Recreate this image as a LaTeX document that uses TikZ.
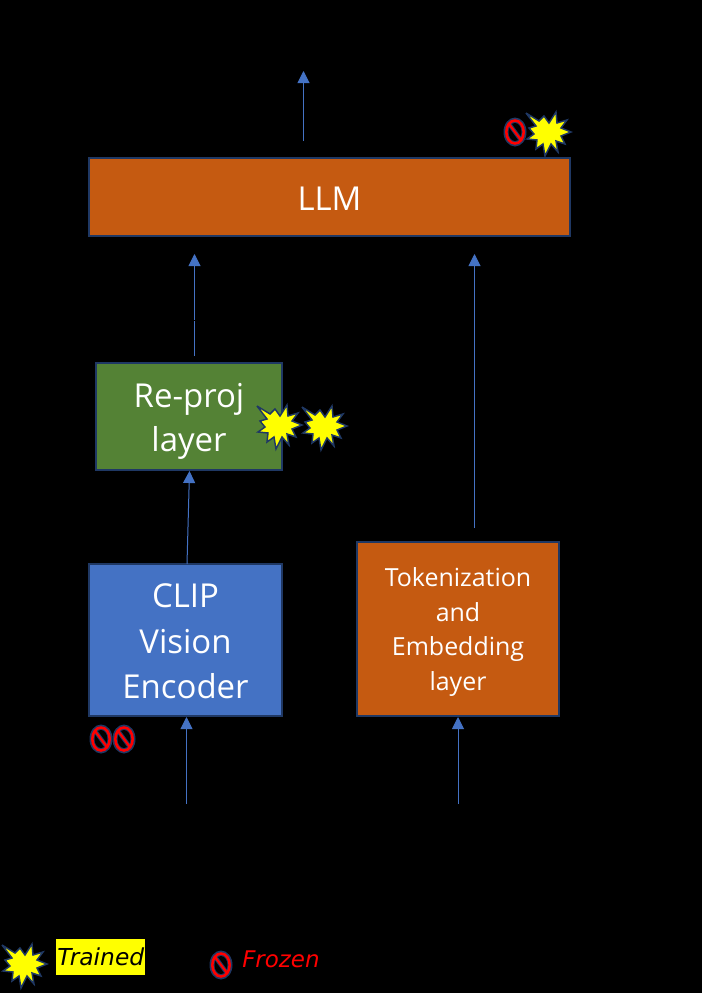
\documentclass[tikz,border=0pt]{standalone}
\usepackage{fontspec}
\setmainfont{Open Sans}
\newfontfamily\legendfont{DejaVu Sans}
\usetikzlibrary{arrows.meta}
\definecolor{navyline}{HTML}{1F3864}
\definecolor{orangebox}{HTML}{C55A11}
\definecolor{greenbox}{HTML}{548235}
\definecolor{bluebox}{HTML}{4472C4}
\definecolor{pureyellow}{HTML}{FFFF00}
\definecolor{purered}{HTML}{FF0000}
\tikzset{
  x=0.75pt,y=-0.75pt,
  blockbox/.style={draw=navyline,line width=1.5pt,text=white,align=center,inner sep=0pt,anchor=north west},
  flow/.style={draw=bluebox,line width=0.75pt,-{Triangle[length=9pt,width=9pt,fill=bluebox]}},
  flowplain/.style={draw=bluebox,line width=0.75pt},
  burst/.pic={
    \draw[fill=pureyellow,draw=navyline,line width=1.1pt,line join=miter,miter limit=5]
      (-22,-20) -- (-9,-12) -- (-4,-17) -- (1,-10) -- (8,-21) -- (9,-10) -- (19,-13) -- (13,-5)
      -- (23,-1) -- (13,3) -- (17,11) -- (8,8) -- (10,19) -- (3,11) -- (-3,23) -- (-5,11)
      -- (-12,16) -- (-11,7) -- (-21,6) -- (-14,1) -- (-19,-5) -- (-12,-7) -- cycle;
  },
  banpic/.pic={
    \fill[navyline] (0,0) ellipse [x radius=11.5,y radius=14.5];
    \fill[black] (0,0) ellipse [x radius=6.5,y radius=9];
    \draw[navyline,line width=3.2pt] (-5.5,-7.5) -- (5.5,7.5);
    \draw[purered,line width=1.9pt] (0,0) ellipse [x radius=8.7,y radius=11.5];
    \draw[purered,line width=1.7pt] (-6,-8) -- (6,8);
  }
}
\begin{document}
\begin{tikzpicture}
\useasboundingbox (0,0) rectangle (702,993);
\fill[black] (0,0) rectangle (702,993);

\node[blockbox,fill=orangebox,minimum width=360.75pt,minimum height=58.5pt,
  label={[text=white,align=center,yshift=-1.5pt,font=\fontsize{24.7}{29}\selectfont]center:{LLM}}] (llm) at (88,157) {};
\node[blockbox,fill=greenbox,minimum width=139.5pt,minimum height=80.25pt,
  label={[text=white,align=center,yshift=-3.4pt,font=\fontsize{24.7}{33}\selectfont]center:{Re-proj\\layer}}] (reproj) at (95,362) {};
\node[blockbox,fill=bluebox,minimum width=144.75pt,minimum height=114pt,
  label={[text=white,align=center,yshift=-1.1pt,font=\fontsize{24.7}{34}\selectfont]center:{CLIP\\Vision\\Encoder}}] (clip) at (88,563) {};
\node[blockbox,fill=orangebox,minimum width=151.5pt,minimum height=130.5pt,
  label={[text=white,align=center,yshift=-2.25pt,font=\fontsize{18.7}{26.2}\selectfont]center:{Tokenization\\and\\Embedding\\layer}}] (token) at (356,541) {};

\coordinate (outstart) at (303.5,141);
\coordinate (outend) at (303.5,71);
\draw[flow] (outstart) -- (outend);

\coordinate (rpstart) at (194.5,356);
\coordinate (rpmid) at (194.5,321);
\coordinate (rpmidb) at (194.5,320);
\coordinate (rpend) at (194.5,254);
\draw[flowplain] (rpstart) -- (rpmid);
\draw[flow] (rpmidb) -- (rpend);

\coordinate (tkstart) at (474.5,528);
\coordinate (tkend) at (474.5,254);
\draw[flow] (tkstart) -- (tkend);

\coordinate (clipstart) at (187,564);
\coordinate (clipend) at (189.5,471);
\draw[flow] (clipstart) -- (clipend);

\coordinate (imgstart) at (186.5,804);
\coordinate (imgend) at (186.5,717);
\draw[flow] (imgstart) -- (imgend);

\coordinate (txtstart) at (458,804);
\coordinate (txtend) at (458,717);
\draw[flow] (txtstart) -- (txtend);

\pic at (548,133) {burst};
\pic at (515,132) {banpic};
\pic at (279,426) {burst};
\pic at (324,427) {burst};
\pic at (101,739) {banpic};
\pic at (124,739) {banpic};

\pic at (24,965) {burst};
\pic at (221,965) {banpic};
\node[fill=pureyellow,text=black,inner sep=0pt,minimum width=66.75pt,minimum height=27pt,anchor=north west,font=\legendfont\itshape\fontsize{17.5}{20}\selectfont] (trained) at (56,939) {\raisebox{-3.7pt}{Trained}};
\node[text=purered,inner sep=0pt,anchor=west,font=\legendfont\itshape\fontsize{17.2}{20}\selectfont] (frozen) at (242,959) {Frozen};
\end{tikzpicture}
\end{document}
